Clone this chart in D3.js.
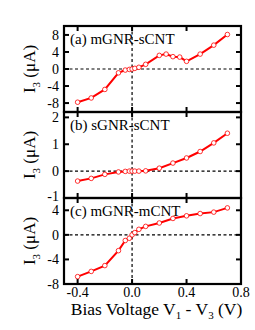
<!DOCTYPE html>
<html>
<head>
<meta charset="utf-8">
<script src="https://cdn.jsdelivr.net/npm/d3@7"></script>
<style>
  body { margin: 0; background: #fff; }
  svg { font-family: "Liberation Serif", "DejaVu Serif", serif; }
</style>
</head>
<body>
<script>
// bias voltages (V) and currents I3 (uA) for each panel
const voltsA = [-0.4, -0.3, -0.2, -0.1, -0.05, -0.02, 0, 0.02, 0.05, 0.1, 0.2, 0.25, 0.3, 0.35, 0.4, 0.5, 0.6, 0.7];
const currentA = [-7.8, -6.8, -4.8, -0.9, -0.25, -0.1, 0, 0.15, 0.4, 1.1, 3.2, 3.5, 2.9, 2.8, 1.8, 3.5, 5.6, 8.1];

const voltsB = [-0.4, -0.3, -0.2, -0.1, -0.05, -0.02, 0, 0.02, 0.05, 0.1, 0.2, 0.3, 0.4, 0.5, 0.6, 0.7];
const currentB = [-0.37, -0.27, -0.12, -0.03, -0.01, 0, 0, 0, 0, 0.01, 0.11, 0.3, 0.49, 0.73, 1.05, 1.41];

const voltsC = [-0.4, -0.3, -0.2, -0.1, -0.05, -0.02, 0, 0.02, 0.05, 0.1, 0.2, 0.3, 0.4, 0.5, 0.6, 0.7];
const currentC = [-6.8, -5.95, -5.0, -2.57, -0.92, -0.55, 0, 0.37, 0.9, 1.38, 1.93, 2.67, 3.1, 3.47, 3.7, 4.39];

const xTicks = [-0.4, 0.0, 0.4, 0.8];
const panels = [
  { label: "(a) mGNR-sCNT", v: voltsA, i: currentA, domain: [-10.1, 10.1], ticks: [-8, -4, 0, 4, 8] },
  { label: "(b) sGNR-sCNT", v: voltsB, i: currentB, domain: [-1, 2.2], ticks: [-1, 0, 1, 2] },
  { label: "(c) mGNR-mCNT", v: voltsC, i: currentC, domain: [-8, 6], ticks: [-8, -4, 0, 4] },
];

const width = 255, height = 330;
const margin = { top: 26, left: 64, right: 14 };
const panelH = 86;

const svg = d3.select("body").append("svg")
  .attr("width", width)
  .attr("height", height);

const x = d3.scaleLinear().domain([-0.5, 0.8]).range([margin.left, width - margin.right]);

panels.forEach((p, k) => {
  const top = margin.top + k * panelH;
  const y = d3.scaleLinear().domain(p.domain).range([top + panelH, top]);
  const g = svg.append("g");

  // dashed zero lines
  g.append("line")
    .attr("x1", x(0)).attr("x2", x(0))
    .attr("y1", top).attr("y2", top + panelH)
    .attr("stroke", "#000").attr("stroke-width", 1.2).attr("stroke-dasharray", "3,2.5");
  g.append("line")
    .attr("x1", x.range()[0]).attr("x2", x.range()[1])
    .attr("y1", y(0)).attr("y2", y(0))
    .attr("stroke", "#000").attr("stroke-width", 1.2).attr("stroke-dasharray", "3,2.5");

  // inward ticks on all four sides
  const tl = 5;
  xTicks.forEach(t => {
    if (t >= 0.8) return;
    g.append("line").attr("x1", x(t)).attr("x2", x(t))
      .attr("y1", top + panelH).attr("y2", top + panelH - tl)
      .attr("stroke", "#000").attr("stroke-width", 2);
    g.append("line").attr("x1", x(t)).attr("x2", x(t))
      .attr("y1", top).attr("y2", top + tl)
      .attr("stroke", "#000").attr("stroke-width", 2);
  });
  p.ticks.forEach(t => {
    g.append("line").attr("x1", x.range()[0]).attr("x2", x.range()[0] + tl)
      .attr("y1", y(t)).attr("y2", y(t))
      .attr("stroke", "#000").attr("stroke-width", 2);
    g.append("line").attr("x1", x.range()[1]).attr("x2", x.range()[1] - tl)
      .attr("y1", y(t)).attr("y2", y(t))
      .attr("stroke", "#000").attr("stroke-width", 2);
    // the lowest label of b sits on the panel seam; lift it a little
    const lift = (k === 1 && t === -1) ? -2 : 0;
    g.append("text")
      .attr("x", x.range()[0] - 5)
      .attr("y", y(t) + lift)
      .attr("dy", "0.35em")
      .attr("text-anchor", "end")
      .attr("font-size", 14)
      .text(t < 0 ? "-" + Math.abs(t) : t);
  });

  // data line + open markers
  const pts = p.v.map((v, j) => [v, p.i[j]]);
  g.append("path")
    .datum(pts)
    .attr("fill", "none")
    .attr("stroke", "#ff0000")
    .attr("stroke-width", 2)
    .attr("d", d3.line().x(d => x(d[0])).y(d => y(d[1])));
  g.selectAll(".pt").data(pts).enter()
    .append("circle")
    .attr("cx", d => x(d[0]))
    .attr("cy", d => y(d[1]))
    .attr("r", 2.3)
    .attr("fill", "#fff")
    .attr("stroke", "#ff0000")
    .attr("stroke-width", 0.8);

  // frame
  g.append("rect")
    .attr("x", x.range()[0]).attr("y", top)
    .attr("width", x.range()[1] - x.range()[0]).attr("height", panelH)
    .attr("fill", "none").attr("stroke", "#000").attr("stroke-width", 2.2);

  g.append("text")
    .attr("x", x.range()[0] + 6)
    .attr("y", top + 18)
    .attr("font-size", 15)
    .text(p.label);

  // y title
  const yt = svg.append("text")
    .attr("transform", `translate(35,${top + panelH / 2}) rotate(-90)`)
    .attr("text-anchor", "middle")
    .attr("font-size", 17);
  yt.append("tspan").text("I");
  yt.append("tspan").attr("font-size", 11).attr("dy", 5).text("3");
  yt.append("tspan").attr("dy", -5).text(" (μA)");
});

// bottom x labels
const bottom = margin.top + 3 * panelH;
xTicks.forEach(t => {
  svg.append("text")
    .attr("x", x(t))
    .attr("y", bottom + 13)
    .attr("text-anchor", "middle")
    .attr("font-size", 14)
    .text(t < 0 ? "-" + Math.abs(t).toFixed(1) : t.toFixed(1));
});

const xt = svg.append("text")
  .attr("x", (x.range()[0] + x.range()[1]) / 2 + 4)
  .attr("y", bottom + 31)
  .attr("text-anchor", "middle")
  .attr("font-size", 17.5);
xt.append("tspan").text("Bias Voltage V");
xt.append("tspan").attr("font-size", 11).attr("dy", 4).text("1");
xt.append("tspan").attr("dy", -4).text(" - V");
xt.append("tspan").attr("font-size", 11).attr("dy", 4).text("3");
xt.append("tspan").attr("dy", -4).text(" (V)");
</script>
</body>
</html>
